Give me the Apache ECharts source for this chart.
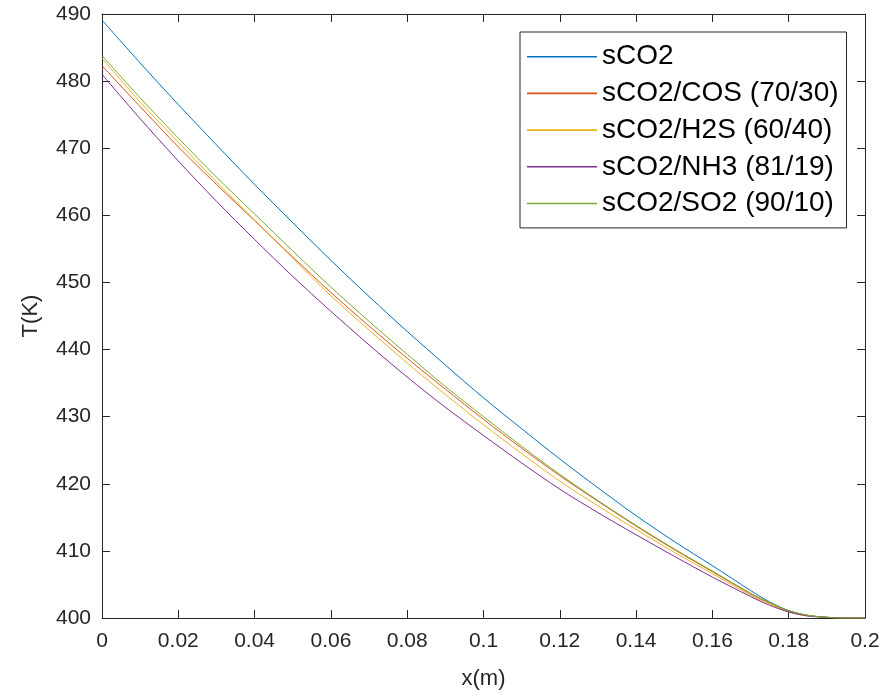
<!DOCTYPE html>
<html>
<head>
<meta charset="utf-8">
<script src="https://cdn.jsdelivr.net/npm/echarts@6/dist/echarts.min.js"></script>
<style>
html,body{margin:0;padding:0;background:#fff;}
#chart{width:892px;height:695px;}
</style>
</head>
<body>
<div id="chart"></div>
<script>
const xValues = [0, 0.01, 0.02, 0.03, 0.04, 0.05, 0.06, 0.07, 0.08, 0.09, 0.10, 0.11, 0.12, 0.13, 0.14, 0.15, 0.16, 0.17, 0.175, 0.18, 0.185, 0.19, 0.195, 0.2];
const sCO2    = [489.1, 482.7, 476.5, 470.5, 464.6, 458.9, 453.3, 447.9, 442.7, 437.7, 432.8, 428.2, 423.7, 419.4, 415.25, 411.4, 407.8, 404.1, 402.4, 401.1, 400.4, 400.1, 400.0, 400.0];
const sCO2_COS = [482.3, 476.2, 470.2, 464.6, 459.2, 453.8, 448.5, 443.5, 438.7, 434.1, 429.6, 425.3, 421.2, 417.4, 413.7, 410.2, 406.9, 403.6, 402.2, 401.0, 400.4, 400.1, 400.0, 400.0];
const sCO2_H2S = [483.4, 476.9, 470.9, 465.0, 459.3, 453.6, 448.0, 442.9, 438.0, 433.3, 428.8, 424.5, 420.4, 416.7, 413.2, 409.8, 406.6, 403.4, 402.1, 400.9, 400.3, 400.1, 400.0, 400.0];
const sCO2_NH3 = [481.0, 474.4, 468.1, 462.1, 456.4, 450.9, 445.7, 440.7, 435.9, 431.4, 427.2, 423.1, 419.2, 415.7, 412.4, 409.2, 406.1, 403.2, 401.9, 400.9, 400.3, 400.1, 400.0, 400.0];
const sCO2_SO2 = [483.8, 477.5, 471.5, 465.7, 460.2, 454.7, 449.3, 444.2, 439.3, 434.5, 430.0, 425.6, 421.4, 417.5, 413.8, 410.3, 407.0, 403.7, 402.3, 401.1, 400.4, 400.1, 400.0, 400.0];
const seriesNames = ['sCO2', 'sCO2/COS (70/30)', 'sCO2/H2S (60/40)', 'sCO2/NH3 (81/19)', 'sCO2/SO2 (90/10)'];
const seriesColors = ['#0072BD', '#D95319', '#EDB120', '#7E2F8E', '#77AC30'];
const seriesData = [sCO2, sCO2_COS, sCO2_H2S, sCO2_NH3, sCO2_SO2];

const FONT = 'Liberation Sans, Arial, sans-serif';
const AX = '#262626';
const chart = echarts.init(document.getElementById('chart'), null, {renderer: 'canvas'});

const series = seriesNames.map((name, i) => ({
  name: name,
  type: 'line',
  data: xValues.map((x, j) => [x, seriesData[i][j]]),
  symbol: 'none',
  smooth: 0.3,
  lineStyle: {color: seriesColors[i], width: 1},
  itemStyle: {color: seriesColors[i]},
  emphasis: {disabled: true},
  z: 3
}));

const baseAxis = {
  axisLine: {show: true, onZero: false, lineStyle: {color: AX, width: 1}},
  axisTick: {show: true, inside: true, length: 8, lineStyle: {color: AX, width: 1}},
  splitLine: {show: false}
};

chart.setOption({
  animation: false,
  backgroundColor: '#ffffff',
  grid: {left: 102, right: 27, top: 14, bottom: 75, containLabel: false},
  legend: {
    data: seriesNames,
    orient: 'vertical',
    left: 520,
    top: 32,
    icon: 'rect',
    itemWidth: 70,
    itemHeight: 1.6,
    itemGap: 6.7,
    padding: [9.7, 8, 9.4, 7],
    backgroundColor: '#ffffff',
    borderColor: '#262626',
    borderWidth: 1,
    textStyle: {fontFamily: FONT, fontSize: 28, color: '#000', lineHeight: 30}
  },
  xAxis: [
    Object.assign({}, baseAxis, {
      type: 'value', min: 0, max: 0.2, interval: 0.02,
      name: 'x(m)', nameLocation: 'middle', nameGap: 50,
      nameTextStyle: {fontFamily: FONT, fontSize: 22, color: AX},
      axisLabel: {margin: 13, fontFamily: FONT, fontSize: 21, color: AX,
        formatter: v => String(+v.toFixed(2))}
    }),
    Object.assign({}, baseAxis, {
      type: 'value', min: 0, max: 0.2, interval: 0.02, position: 'top',
      axisLabel: {show: false}
    })
  ],
  yAxis: [
    Object.assign({}, baseAxis, {
      type: 'value', min: 400, max: 490, interval: 10,
      name: 'T(K)', nameLocation: 'middle', nameGap: 60, nameRotate: 90,
      nameTextStyle: {fontFamily: FONT, fontSize: 22, color: AX},
      axisLabel: {margin: 11, fontFamily: FONT, fontSize: 21, color: AX}
    }),
    Object.assign({}, baseAxis, {
      type: 'value', min: 400, max: 490, interval: 10, position: 'right',
      axisLabel: {show: false}
    })
  ],
  series: series
});
</script>
</body>
</html>
